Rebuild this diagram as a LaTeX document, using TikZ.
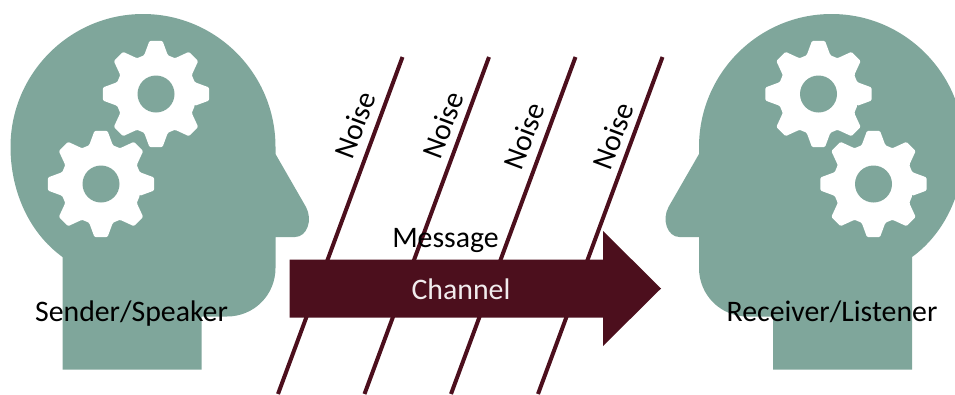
\documentclass[tikz,border=0pt]{standalone}
\usepackage{fontspec}
\setmainfont{Carlito}
\definecolor{headteal}{HTML}{7FA69B}
\definecolor{wine}{HTML}{4C0F1D}
\tikzset{
  headfill/.style={fill=headteal,draw=none},
  gearfill/.style={fill=white,draw=none,rounded corners=1.2pt},
  noiseline/.style={draw=wine,line width=4pt},
  noiselabel/.style={font=\fontsize{29.8}{30}\selectfont,text=black,inner sep=0pt,rotate=69.5},
  toplabel/.style={font=\fontsize{29.8}{30}\selectfont,text=black,inner sep=0pt,anchor=base},
  cogwheel/.pic={
    \fill[gearfill] (-17:40.5pt) \foreach \a in {0,45,...,315}{
      -- (\a-17:40.5pt) -- (\a-7:53.5pt) -- (\a+7:53.5pt) -- (\a+17:40.5pt)} -- cycle;
    \fill[headteal] (0,0) circle[radius=18.5pt];
  }
}
\newcommand{\headshape}{%
  \fill[headfill] (62.5,369.5) -- (62.5,257)
    .. controls (28,232) and (10.5,189.6) .. (10.5,147)
    .. controls (10.5,73.5) and (70,14) .. (143,14)
    .. controls (216,14) and (275.5,73.5) .. (275.5,147)
    -- (275.5,154) -- (306,207)
    .. controls (313,220) and (307,237) .. (295,237)
    -- (275.5,237) -- (275.5,268)
    .. controls (275.5,295) and (254,316.5) .. (227,316.5)
    -- (201.5,316.5) -- (201.5,369.5) -- cycle;
  \pic at (156,94) {cogwheel};
  \pic at (101,184) {cogwheel};
}
\begin{document}
\begin{tikzpicture}[x=1pt,y=-1pt]
\useasboundingbox (0,0) rectangle (955,394);
\clip (0,0) rectangle (955,394);
\headshape
\begin{scope}[xshift=974.5pt,xscale=-1]
\headshape
\end{scope}
\coordinate (n1t) at (402.5,57); \coordinate (n1b) at (278,394);
\coordinate (n2t) at (489,57);   \coordinate (n2b) at (364.5,394);
\coordinate (n3t) at (575.5,57); \coordinate (n3b) at (451,394);
\coordinate (n4t) at (662.5,57); \coordinate (n4b) at (538,394);
\draw[noiseline] (n1t) -- (n1b);
\draw[noiseline] (n2t) -- (n2b);
\draw[noiseline] (n3t) -- (n3b);
\draw[noiseline] (n4t) -- (n4b);
\fill[wine] (289.5,259.5) -- (603,259.5) -- (603,231) -- (661,288.5) -- (603,346) -- (603,317.5) -- (289.5,317.5) -- cycle;
\node[noiselabel] (noiseA) at (355,125) {Noise};
\node[noiselabel] (noiseB) at (443,125) {Noise};
\node[noiselabel] (noiseC) at (524,136) {Noise};
\node[noiselabel] (noiseD) at (613,136) {Noise};
\node[toplabel] (message) at (445.5,247) {Message};
\node[toplabel,text=white!92!wine] (channel) at (461,299) {Channel};
\node[toplabel] (sender) at (131.5,321) {Sender/Speaker};
\node[toplabel] (receiver) at (832,321) {Receiver/Listener};
\end{tikzpicture}
\end{document}
